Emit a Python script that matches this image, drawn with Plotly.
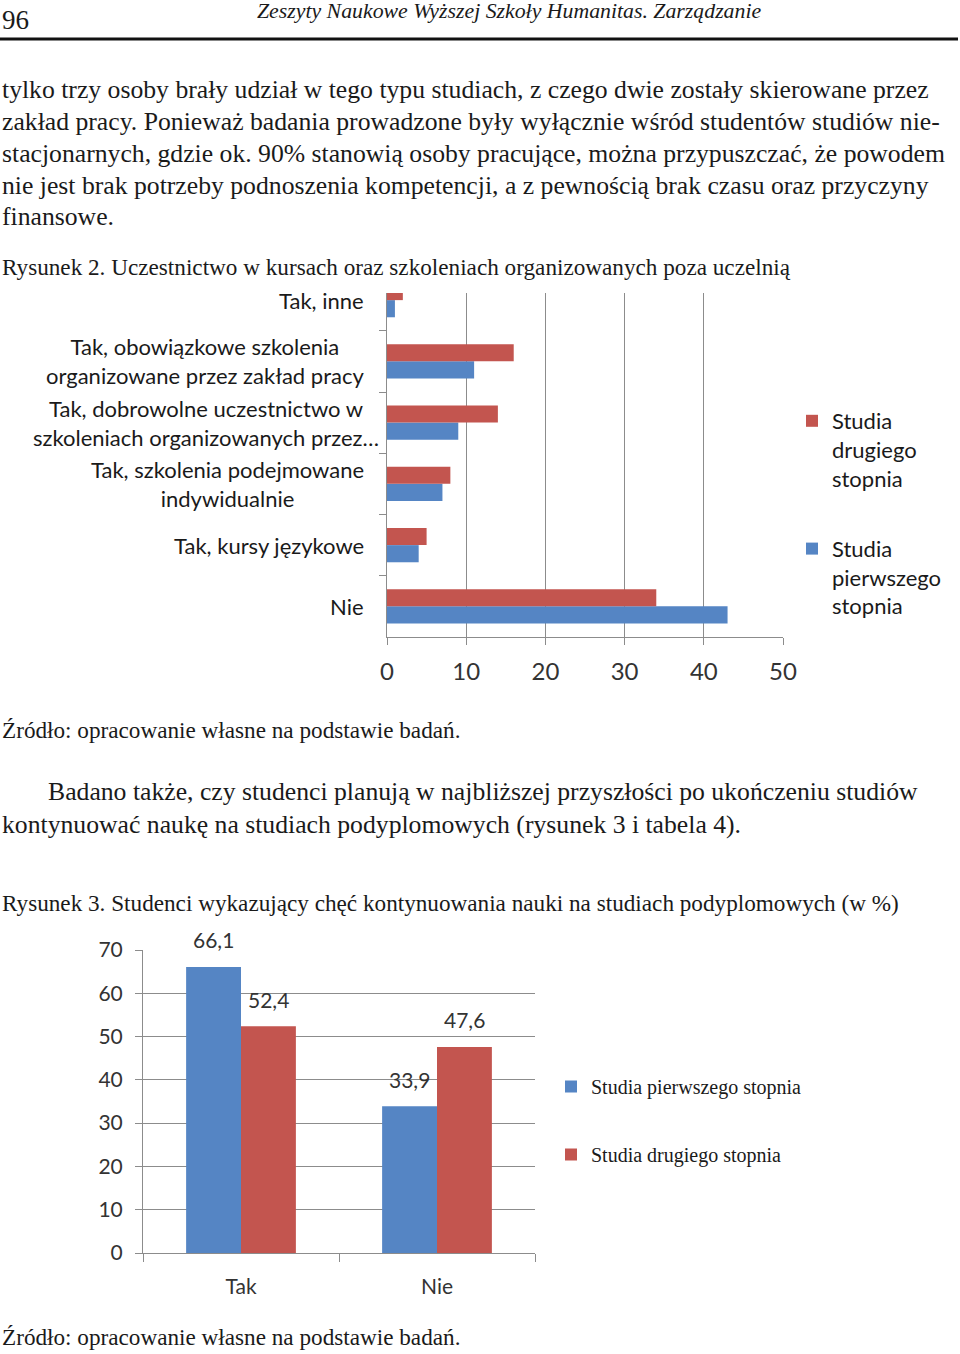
import plotly.graph_objects as go

W, H = 960, 1354


def px(x):
    return x / W


def py(y):
    return 1 - y / H


# ---------------- data ----------------
# Figure 2 (horizontal bars), listed bottom -> top
c1_categories = [
    "Nie",
    "Tak, kursy językowe",
    "Tak, szkolenia podejmowane<br>indywidualnie",
    "Tak, dobrowolne uczestnictwo w<br>szkoleniach organizowanych przez…",
    "Tak, obowiązkowe szkolenia<br>organizowane przez zakład pracy",
    "Tak, inne",
]
c1_first_degree = [43, 4, 7, 9, 11, 1]
c1_second_degree = [34, 5, 8, 14, 16, 2]
c1_series_names = ["Studia<br>pierwszego<br>stopnia", "Studia<br>drugiego<br>stopnia"]
c1_ticks = [0, 10, 20, 30, 40, 50]

# Figure 3 (vertical bars)
c2_categories = ["Tak", "Nie"]
c2_first_degree = [66.1, 33.9]
c2_second_degree = [52.4, 47.6]
c2_series_names = ["Studia pierwszego stopnia", "Studia drugiego stopnia"]
c2_ticks = [0, 10, 20, 30, 40, 50, 60, 70]

# page text
header_left = "96"
header_title = "Zeszyty Naukowe Wyższej Szkoły Humanitas. Zarządzanie"
body_lines = [
    "tylko trzy osoby brały udział w tego typu studiach, z czego dwie zostały skierowane przez",
    "zakład pracy. Ponieważ badania prowadzone były wyłącznie wśród studentów studiów nie-",
    "stacjonarnych, gdzie ok. 90% stanowią osoby pracujące, można przypuszczać, że powodem",
    "nie jest brak potrzeby podnoszenia kompetencji, a z pewnością brak czasu oraz przyczyny",
    "finansowe.",
]
caption2 = "Rysunek 2. Uczestnictwo w kursach oraz szkoleniach organizowanych poza uczelnią"
source_text = "Źródło: opracowanie własne na podstawie badań."
para2_lines = [
    "Badano także, czy studenci planują w najbliższej przyszłości po ukończeniu studiów",
    "kontynuować naukę na studiach podyplomowych (rysunek 3 i tabela 4).",
]
caption3 = "Rysunek 3. Studenci wykazujący chęć kontynuowania nauki na studiach podyplomowych (w %)"

# ---------------- styles ----------------
BLUE = "#5585C4"
RED = "#C3554F"
GRID = "#8c8c8c"
SERIF = "Liberation Serif"
SANS = "Lato"
TXT = "#1a1a1a"
BARGAP = 0.44

fig = go.Figure()

# Figure 2 traces (first trace sits lowest in each group)
fig.add_trace(go.Bar(
    y=c1_categories, x=c1_first_degree, orientation="h", name=c1_series_names[0],
    marker=dict(color=BLUE, line=dict(width=0)), xaxis="x", yaxis="y",
    legend="legend", legendgroup="a1", legendrank=2,
))
fig.add_trace(go.Bar(
    y=c1_categories, x=c1_second_degree, orientation="h", name=c1_series_names[1],
    marker=dict(color=RED, line=dict(width=0)), xaxis="x", yaxis="y",
    legend="legend", legendgroup="b1", legendrank=1,
))

# Figure 3 traces
fig.add_trace(go.Bar(
    x=c2_categories, y=c2_first_degree, name=c2_series_names[0],
    marker=dict(color=BLUE, line=dict(width=0)), xaxis="x2", yaxis="y2",
    legend="legend2", legendgroup="a2", legendrank=1,
))
fig.add_trace(go.Bar(
    x=c2_categories, y=c2_second_degree, name=c2_series_names[1],
    marker=dict(color=RED, line=dict(width=0)), xaxis="x2", yaxis="y2",
    legend="legend2", legendgroup="b2", legendrank=2,
))

# plot-area geometry (pixels)
C1_L, C1_R, C1_T, C1_B = 387, 783, 293, 637
C2_L, C2_R, C2_T, C2_B = 143, 535, 950, 1253
band1 = 61.25
c1_span = (C1_B - C1_T) / band1

annotations = []

# Figure 2 category labels (centred lines, right-aligned block)
for cat in c1_categories:
    annotations.append(dict(
        x=px(366), xref="paper", y=cat, yref="y", text=cat,
        xanchor="right", yanchor="middle", align="center", showarrow=False,
        xshift=15 if "…" in cat else 0,
        font=dict(family=SANS, size=22, color=TXT),
    ))

# Figure 3 value labels
band2 = (C2_R - C2_L) / len(c2_categories)
bar_w2 = band2 * (1 - BARGAP) / 2
for vals, sign in ((c2_first_degree, -1), (c2_second_degree, 1)):
    for cat, v in zip(c2_categories, vals):
        annotations.append(dict(
            x=cat, xref="x2", y=v, yref="y2",
            text=f"{v:.1f}".replace(".", ","),
            xshift=sign * bar_w2 / 2, yshift=27,
            xanchor="center", yanchor="middle", showarrow=False,
            font=dict(family=SANS, size=21, color="#333333"),
        ))


def page_text(text, x, y, size, xanchor="left"):
    annotations.append(dict(
        x=px(x), y=py(y), xref="paper", yref="paper", text=text,
        xanchor=xanchor, yanchor="middle", showarrow=False, align="left",
        font=dict(family=SERIF, size=size, color=TXT),
    ))


page_text(header_left, 0, 20, 27)
page_text("<i>" + header_title + "</i>", 509, 11, 21.8, xanchor="center")
for i, line in enumerate(body_lines):
    page_text(line, 0, [90, 121, 153, 185, 216][i], 25.7)
page_text(caption2, 0, 267, 23.2)
page_text(source_text, 0, 730, 23.2)
page_text(para2_lines[0], 46, 792, 25.7)
page_text(para2_lines[1], 0, 824, 25.7)
page_text(caption3, 0, 903, 23.2)
page_text(source_text, 0, 1337, 23.2)

fig.update_layout(
    template="none",
    width=W, height=H,
    margin=dict(l=0, r=0, t=0, b=0, pad=0, autoexpand=False),
    paper_bgcolor="white", plot_bgcolor="white",
    barmode="group", bargap=BARGAP, bargroupgap=0,
    showlegend=True,
    annotations=annotations,
    shapes=[dict(type="line", xref="paper", yref="paper",
                 x0=0, x1=px(958), y0=py(39), y1=py(39),
                 line=dict(color="#111111", width=3))],
    xaxis=dict(
        domain=[px(C1_L), px(C1_R)], anchor="y", range=[0, 50], automargin=False,
        tickvals=c1_ticks, showgrid=True, gridcolor=GRID, gridwidth=1,
        showline=True, linecolor=GRID, linewidth=1, zeroline=False,
        ticks="outside", ticklen=7, tickcolor=GRID, ticklabelstandoff=6,
        tickfont=dict(family=SANS, size=24, color="#333333"),
    ),
    yaxis=dict(
        domain=[py(C1_B), py(C1_T)], anchor="x", type="category", automargin=False,
        categoryorder="array", categoryarray=c1_categories,
        range=[-0.5, -0.5 + c1_span], showgrid=False,
        showline=True, linecolor=GRID, linewidth=1, zeroline=False,
        ticks="outside", tickson="boundaries", ticklen=7, tickcolor=GRID,
        showticklabels=False,
    ),
    xaxis2=dict(
        domain=[px(C2_L), px(C2_R)], anchor="y2", type="category", automargin=False,
        showgrid=False, showline=True, linecolor=GRID, linewidth=1,
        ticks="outside", tickson="boundaries", ticklen=8, tickcolor=GRID,
        ticklabelstandoff=15,
        tickfont=dict(family=SANS, size=21, color="#333333"),
    ),
    yaxis2=dict(
        domain=[py(C2_B), py(C2_T)], anchor="x2", range=[0, 70], automargin=False,
        tickvals=c2_ticks, showgrid=True, gridcolor=GRID, gridwidth=1,
        showline=True, linecolor=GRID, linewidth=1, zeroline=False,
        ticks="outside", ticklen=7, tickcolor=GRID, ticklabelstandoff=8,
        tickfont=dict(family=SANS, size=21, color="#333333"),
    ),
    legend=dict(
        x=px(792), y=py(400), xanchor="left", yanchor="top",
        font=dict(family=SANS, size=22, color=TXT),
        traceorder="grouped", tracegroupgap=39, valign="top",
        bgcolor="rgba(0,0,0,0)", borderwidth=0,
    ),
    legend2=dict(
        x=px(551), y=py(1067), xanchor="left", yanchor="top",
        font=dict(family=SERIF, size=20, color=TXT),
        traceorder="grouped", tracegroupgap=39, valign="middle",
        bgcolor="rgba(0,0,0,0)", borderwidth=0,
    ),
)

fig.write_html("out.html")
